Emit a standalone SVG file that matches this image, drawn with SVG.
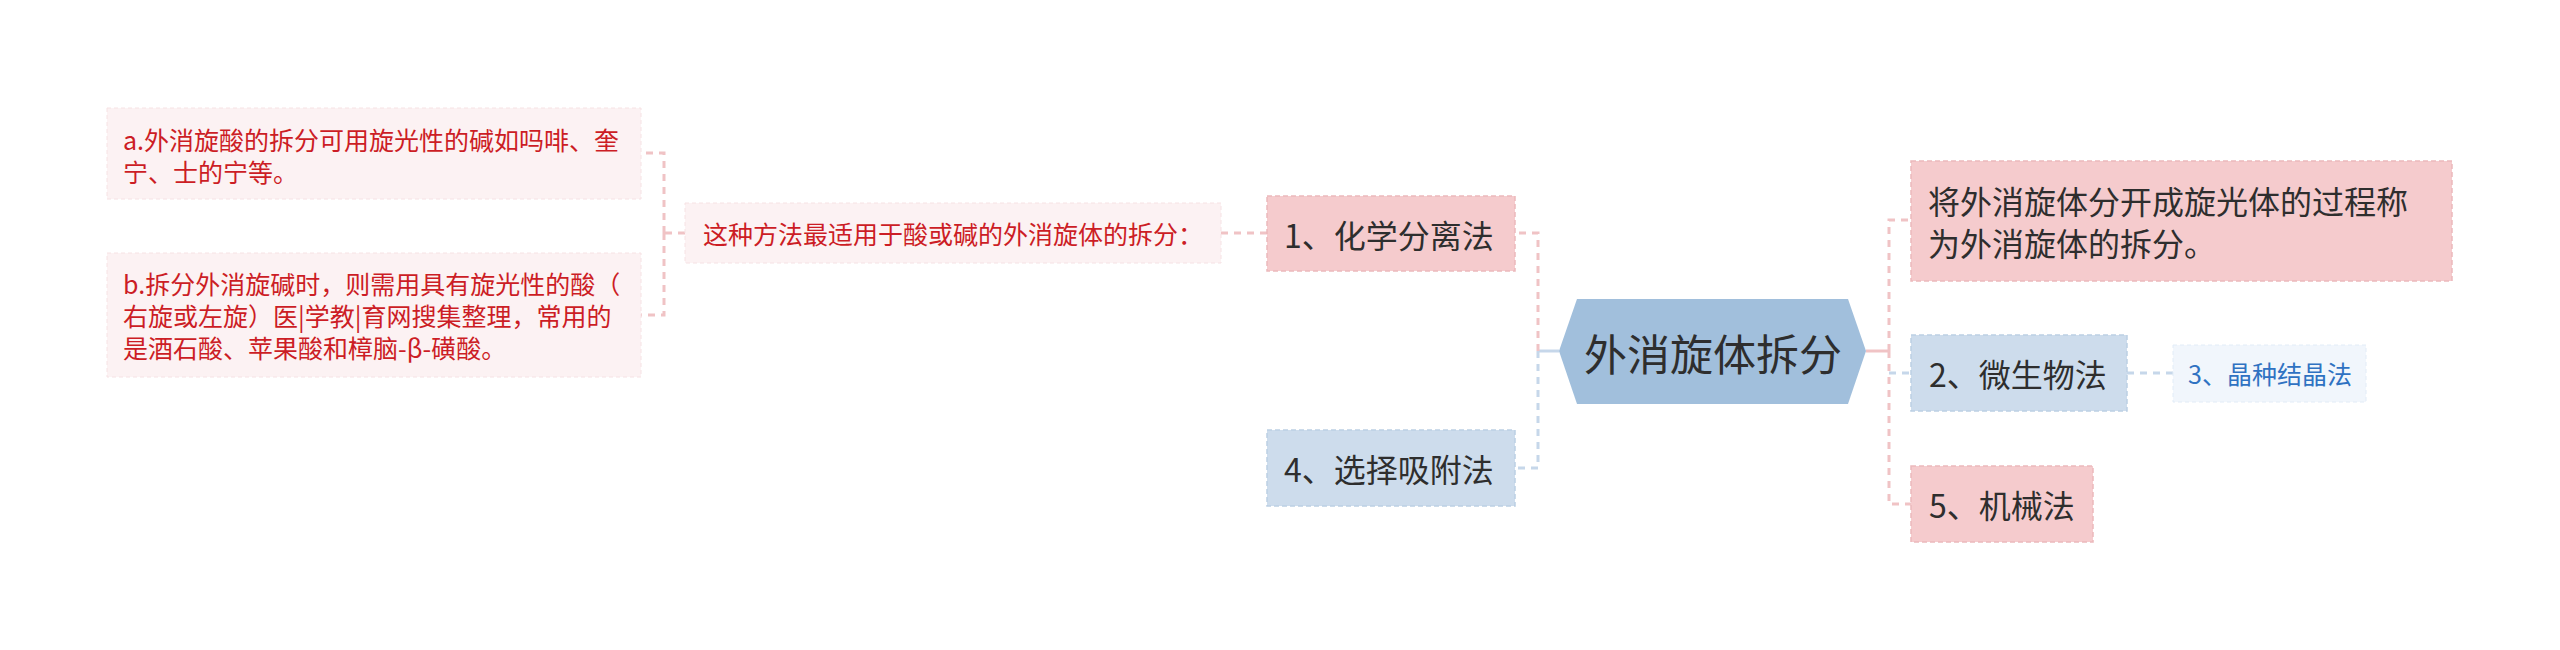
<svg xmlns="http://www.w3.org/2000/svg" width="2560" height="650" viewBox="0 0 2560 650">
  <style>
    text { font-family: "Noto Sans CJK SC", "Noto Sans", sans-serif; dominant-baseline: central; }
    .root-box { fill: #a1bfdc; }
    .root-txt { font-size: 43px; fill: #2e2e2e; }
    .l1-pink { fill: #f5cbcd; stroke: #ebb9bc; stroke-width: 1.5; stroke-dasharray: 5 3; }
    .l1-blue { fill: #cddcec; stroke: #bccfe3; stroke-width: 1.5; stroke-dasharray: 5 3; }
    .l1-txt { font-size: 32px; fill: #2e2e2e; }
    .l2-pink { fill: #fcf2f3; stroke: #f6e2e4; stroke-width: 1; stroke-dasharray: 4 3; }
    .l2-blue { fill: #f1f6fc; stroke: #e2ecf7; stroke-width: 1; stroke-dasharray: 4 3; }
    .l2-red { font-size: 25px; fill: #cc1d25; }
    .l2-bluetxt { font-size: 25px; fill: #2f72c2; }
    .c-pink { fill: none; stroke: #f0c3c5; stroke-width: 3; stroke-dasharray: 7 6; }
    .c-blue { fill: none; stroke: #c6d7ea; stroke-width: 3; stroke-dasharray: 7 6; }
    .s-pink { fill: none; stroke: #f0c3c5; stroke-width: 3; }
    .s-blue { fill: none; stroke: #c6d7ea; stroke-width: 3; }
  </style>

  <g id="connectors">
    <!-- left side of root -->
    <path class="s-blue" d="M1559 351 H1538"/>
    <path class="c-pink" d="M1538 351 V233 H1515"/>
    <path class="c-blue" d="M1538 351 V468 H1515"/>
    <!-- 1 -> explanation -->
    <path class="c-pink" d="M1267 233 H1221"/>
    <!-- explanation -> a, b -->
    <path class="c-pink" d="M685 233 H664"/>
    <path class="c-pink" d="M664 233 V153 H641"/>
    <path class="c-pink" d="M664 233 V315 H641"/>
    <!-- right side of root -->
    <path class="s-pink" d="M1866 351 H1889"/>
    <path class="c-pink" d="M1889 351 V220 H1911"/>
    <path class="c-pink" d="M1889 351 V504 H1911"/>
    <path class="c-blue" d="M1889 373 H1911"/>
    <path class="c-blue" d="M2127 373 H2173"/>
  </g>

  <g id="root">
    <polygon class="root-box" points="1577,299 1848,299 1866,351 1848,404 1577,404 1559,351"/>
    <text class="root-txt" x="1713" y="352" text-anchor="middle">外消旋体拆分</text>
  </g>

  <g id="n1">
    <rect class="l1-pink" x="1267" y="196" width="248" height="75"/>
    <text class="l1-txt" x="1284" y="234">1、化学分离法</text>
  </g>

  <g id="n1-explain">
    <rect class="l2-pink" x="685" y="203" width="536" height="60"/>
    <text class="l2-red" x="703" y="233">这种方法最适用于酸或碱的外消旋体的拆分：</text>
  </g>

  <g id="n1-a">
    <rect class="l2-pink" x="107" y="108" width="534" height="91"/>
    <text class="l2-red" x="123" y="139">a.外消旋酸的拆分可用旋光性的碱如吗啡、奎</text>
    <text class="l2-red" x="123" y="171">宁、士的宁等。</text>
  </g>

  <g id="n1-b">
    <rect class="l2-pink" x="107" y="253" width="534" height="124"/>
    <text class="l2-red" x="123" y="283">b.拆分外消旋碱时，则需用具有旋光性的酸（</text>
    <text class="l2-red" x="123" y="315">右旋或左旋）医|学教|育网搜集整理，常用的</text>
    <text class="l2-red" x="123" y="347">是酒石酸、苹果酸和樟脑-β-磺酸。</text>
  </g>

  <g id="n4">
    <rect class="l1-blue" x="1267" y="430" width="248" height="76"/>
    <text class="l1-txt" x="1284" y="468">4、选择吸附法</text>
  </g>

  <g id="n-def">
    <rect class="l1-pink" x="1911" y="161" width="541" height="120"/>
    <text class="l1-txt" x="1928" y="200">将外消旋体分开成旋光体的过程称</text>
    <text class="l1-txt" x="1928" y="242">为外消旋体的拆分。</text>
  </g>

  <g id="n2">
    <rect class="l1-blue" x="1911" y="335" width="216" height="76"/>
    <text class="l1-txt" x="1929" y="373">2、微生物法</text>
  </g>

  <g id="n3">
    <rect class="l2-blue" x="2173" y="345" width="193" height="57"/>
    <text class="l2-bluetxt" x="2188" y="373">3、晶种结晶法</text>
  </g>

  <g id="n5">
    <rect class="l1-pink" x="1911" y="466" width="182" height="76"/>
    <text class="l1-txt" x="1929" y="504">5、机械法</text>
  </g>
</svg>
